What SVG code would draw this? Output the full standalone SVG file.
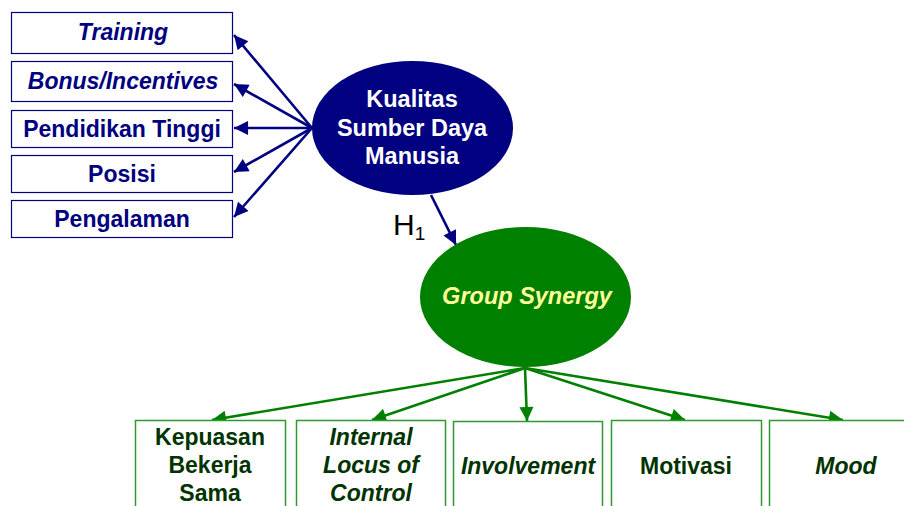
<svg xmlns="http://www.w3.org/2000/svg" width="904" height="506" viewBox="0 0 904 506">
  <defs>
    <marker id="ahBlue" viewBox="0 0 10 10" refX="10" refY="5" markerWidth="6" markerHeight="5.4" orient="auto" markerUnits="strokeWidth">
      <path d="M0,0 L10,5 L0,10 z" fill="#000080"/>
    </marker>
    <marker id="ahGreen" viewBox="0 0 10 10" refX="10" refY="5" markerWidth="6" markerHeight="5.4" orient="auto" markerUnits="strokeWidth">
      <path d="M0,0 L10,5 L0,10 z" fill="#008000"/>
    </marker>
  </defs>
  <style>
    .bbox { fill: #ffffff; stroke: #000080; stroke-width: 1.2; }
    .gbox { fill: #ffffff; stroke: #2e9a2e; stroke-width: 1.5; }
    .btxt { font-family: "Liberation Sans", Arial, sans-serif; font-weight: bold; font-size: 23px; fill: #000080; text-anchor: middle; }
    .gtxt { font-family: "Liberation Sans", Arial, sans-serif; font-weight: bold; font-size: 23px; fill: #003300; text-anchor: middle; }
    .it { font-style: italic; }
    .wtxt { font-family: "Liberation Sans", Arial, sans-serif; font-weight: bold; font-size: 23.5px; fill: #ffffff; text-anchor: middle; }
    .blink { stroke: #000080; stroke-width: 2.6; fill: none; marker-end: url(#ahBlue); }
    .glink { stroke: #008000; stroke-width: 2.6; fill: none; marker-end: url(#ahGreen); }
  </style>

  <!-- connectors -->
  <g id="connectors">
    <line class="blink" x1="312" y1="128" x2="234" y2="35"/>
    <line class="blink" x1="312" y1="128" x2="234" y2="84"/>
    <line class="blink" x1="312" y1="128" x2="234" y2="128"/>
    <line class="blink" x1="312" y1="128" x2="234" y2="172"/>
    <line class="blink" x1="312" y1="128" x2="234" y2="217"/>
    <line class="blink" x1="431" y1="195" x2="456" y2="245"/>
    <line class="glink" x1="525" y1="368" x2="212" y2="420"/>
    <line class="glink" x1="525" y1="368" x2="372" y2="420"/>
    <line class="glink" x1="525" y1="368" x2="527" y2="421"/>
    <line class="glink" x1="525" y1="368" x2="685" y2="420"/>
    <line class="glink" x1="525" y1="368" x2="843" y2="420"/>
  </g>

  <!-- indicator boxes of Kualitas Sumber Daya Manusia -->
  <g id="training">
    <rect class="bbox" x="11.5" y="12.5" width="221" height="41"/>
    <text class="btxt it" x="123" y="40">Training</text>
  </g>
  <g id="bonus">
    <rect class="bbox" x="11.5" y="61.5" width="221" height="40"/>
    <text class="btxt it" x="123" y="89">Bonus/Incentives</text>
  </g>
  <g id="pendidikan">
    <rect class="bbox" x="11.5" y="110.5" width="221" height="37"/>
    <text class="btxt" x="122" y="137">Pendidikan Tinggi</text>
  </g>
  <g id="posisi">
    <rect class="bbox" x="11.5" y="155.5" width="221" height="37"/>
    <text class="btxt" x="122" y="182">Posisi</text>
  </g>
  <g id="pengalaman">
    <rect class="bbox" x="11.5" y="200.5" width="221" height="37"/>
    <text class="btxt" x="122" y="227">Pengalaman</text>
  </g>

  <!-- latent constructs -->
  <g id="ksdm">
    <ellipse cx="412.5" cy="128" rx="100.5" ry="67" fill="#000080"/>
    <text class="wtxt" x="412" y="107">Kualitas</text>
    <text class="wtxt" x="412" y="136">Sumber Daya</text>
    <text class="wtxt" x="412" y="164">Manusia</text>
  </g>
  <g id="h1">
    <text x="393" y="235" font-family="Liberation Sans, Arial, sans-serif" font-size="30" fill="#000000">H<tspan font-size="19" dy="5">1</tspan></text>
  </g>
  <g id="synergy">
    <ellipse cx="525.5" cy="297" rx="105.5" ry="70" fill="#008000"/>
    <text class="wtxt it" x="527" y="304" style="fill:#ffff99">Group Synergy</text>
  </g>

  <!-- indicator boxes of Group Synergy -->
  <g id="kepuasan">
    <rect class="gbox" x="135.5" y="420.5" width="150" height="100"/>
    <text class="gtxt" x="210" y="445">Kepuasan</text>
    <text class="gtxt" x="210" y="473">Bekerja</text>
    <text class="gtxt" x="210" y="501">Sama</text>
  </g>
  <g id="locus">
    <rect class="gbox" x="296.5" y="420.5" width="149" height="100"/>
    <text class="gtxt it" x="371" y="445">Internal</text>
    <text class="gtxt it" x="371" y="473">Locus of</text>
    <text class="gtxt it" x="371" y="501">Control</text>
  </g>
  <g id="involvement">
    <rect class="gbox" x="453.5" y="421.5" width="149" height="100"/>
    <text class="gtxt it" x="528" y="474">Involvement</text>
  </g>
  <g id="motivasi">
    <rect class="gbox" x="611.5" y="420.5" width="150" height="100"/>
    <text class="gtxt" x="686" y="474">Motivasi</text>
  </g>
  <g id="mood">
    <rect class="gbox" x="769.5" y="420.5" width="150" height="100"/>
    <text class="gtxt it" x="846" y="474">Mood</text>
  </g>
</svg>
